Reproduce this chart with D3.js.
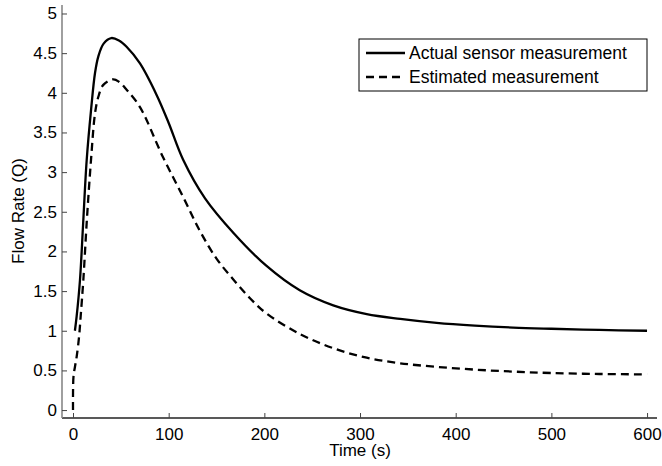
<!DOCTYPE html>
<html>
<head>
<meta charset="utf-8">
<script src="https://cdn.jsdelivr.net/npm/d3@7"></script>
<style>
  body { margin: 0; background: #fff; }
  text { font-family: "Liberation Sans", Arial, Helvetica, sans-serif; fill: #000; }
</style>
</head>
<body>
<svg class="chart" width="662" height="466"></svg>
<script>
// values
var actualTime = [2, 3.8, 7.3, 10.5, 14.3, 19, 23, 26.5, 32, 40, 48, 56, 70, 87.5, 100, 115, 138, 168, 202, 237, 272, 307, 342, 380, 420, 460, 500, 550, 600];
var actualFlow = [1.0, 1.18, 1.64, 2.33, 3.15, 3.8, 4.25, 4.46, 4.62, 4.69, 4.66, 4.58, 4.37, 3.97, 3.62, 3.16, 2.67, 2.23, 1.82, 1.51, 1.32, 1.21, 1.15, 1.10, 1.065, 1.04, 1.025, 1.01, 1.0];

var estTime = [0, 0.5, 2.1, 3.8, 6.3, 8, 10.8, 14.5, 18.8, 23, 26.5, 31.7, 42, 48, 56, 70, 94, 115, 133, 150, 168, 185, 202, 237, 272, 307, 342, 380, 420, 460, 500, 550, 600];
var estFlow = [0, 0.42, 0.55, 0.67, 0.92, 1.18, 1.64, 2.4, 3.15, 3.74, 3.95, 4.10, 4.17, 4.14, 4.04, 3.82, 3.19, 2.69, 2.25, 1.91, 1.64, 1.41, 1.22, 0.96, 0.78, 0.66, 0.59, 0.545, 0.51, 0.485, 0.467, 0.455, 0.45];

var xTicks = [0, 100, 200, 300, 400, 500, 600];
var yTicks = [0, 0.5, 1, 1.5, 2, 2.5, 3, 3.5, 4, 4.5, 5];
var legendLabels = ["Actual sensor measurement", "Estimated measurement"];

var svg = d3.select(".chart");
var plotL = 62, plotR = 657, plotT = 5, plotB = 418;

var x = d3.scaleLinear().domain([-11.5, 610.4]).range([plotL, plotR]);
var y = d3.scaleLinear().domain([-0.1, 5.107]).range([plotB, plotT]);

function zip(ts, vs) {
  return ts.map(function(t, i) { return { t: t, v: vs[i] }; });
}

var line = d3.line()
  .x(function(d) { return x(d.t); })
  .y(function(d) { return y(d.v); })
  .curve(d3.curveCatmullRom.alpha(0.5));

// axes
var xAxis = svg.append("g")
  .attr("transform", "translate(0," + plotB + ")")
  .call(d3.axisBottom(x).tickValues(xTicks).tickSize(-5).tickPadding(10).tickFormat(d3.format("d")));
xAxis.select(".domain").attr("d", "M" + plotL + ",0H" + plotR).attr("stroke", "#222").attr("stroke-width", 1.3);
xAxis.selectAll(".tick line").attr("stroke", "#444");
xAxis.selectAll(".tick text").attr("font-size", 17).attr("dy", "0.71em").attr("font-family", "Liberation Sans, Arial, sans-serif");

var yAxis = svg.append("g")
  .attr("transform", "translate(" + plotL + ",0)")
  .call(d3.axisLeft(y).tickValues(yTicks).tickSize(-5).tickPadding(5).tickFormat(d3.format("")));
yAxis.select(".domain").attr("d", "M0," + plotT + "V" + plotB).attr("stroke", "#888").attr("stroke-width", 1.6);
yAxis.selectAll(".tick line").attr("stroke", "#444");
yAxis.selectAll(".tick text").attr("font-size", 17).attr("font-family", "Liberation Sans, Arial, sans-serif");

svg.append("text")
  .attr("x", x(300))
  .attr("y", 456)
  .attr("text-anchor", "middle")
  .attr("font-size", 17)
  .text("Time (s)");

svg.append("text")
  .attr("transform", "translate(24," + 211 + ") rotate(-90)")
  .attr("text-anchor", "middle")
  .attr("font-size", 17)
  .text("Flow Rate (Q)");

// curves
svg.append("path")
  .datum(zip(actualTime, actualFlow))
  .attr("fill", "none")
  .attr("stroke", "#000")
  .attr("stroke-width", 2.3)
  .attr("d", line);

svg.append("path")
  .datum(zip(estTime, estFlow))
  .attr("fill", "none")
  .attr("stroke", "#000")
  .attr("stroke-width", 2.3)
  .attr("stroke-dasharray", "8,5")
  .attr("d", line);

// legend
var lg = svg.append("g").attr("transform", "translate(359,39)");
lg.append("rect")
  .attr("width", 288).attr("height", 52)
  .attr("fill", "#fff").attr("stroke", "#000").attr("stroke-width", 1);
legendLabels.forEach(function(lab, i) {
  var ly = 14 + i * 24;
  lg.append("line")
    .attr("x1", 7).attr("x2", 46).attr("y1", ly).attr("y2", ly)
    .attr("stroke", "#000").attr("stroke-width", 2.3)
    .attr("stroke-dasharray", i === 1 ? "8,5" : null);
  lg.append("text")
    .attr("x", 50).attr("y", ly).attr("dy", "0.35em")
    .attr("font-size", 17.5)
    .text(lab);
});
</script>
</body>
</html>
